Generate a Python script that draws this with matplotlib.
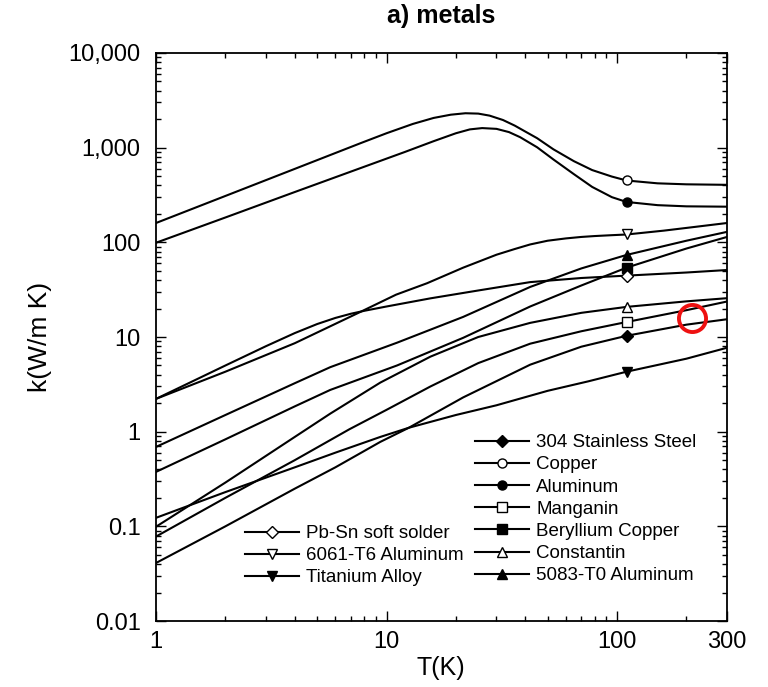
import matplotlib
matplotlib.use("Agg")  # headless, just write the PNG
import matplotlib.pyplot as plt
from matplotlib.ticker import FixedLocator, FixedFormatter, LogLocator, NullFormatter

plt.rcParams["font.family"] = ["Liberation Sans", "DejaVu Sans"]

# ----------------------------------------------------------------------
# Values: temperature T in K, conductivity k in W/(m K)
# ----------------------------------------------------------------------
copper_T = [1, 2, 4, 7.75, 10, 13, 16, 19, 22, 25, 28, 32, 36, 40, 45, 53, 65, 78, 95, 110, 150, 200, 300]
copper_k = [160, 309, 597, 1120, 1420, 1780, 2060, 2230, 2310, 2290, 2180, 1960, 1710, 1480, 1260, 960,
            720, 580, 495, 450, 420, 410, 405]

aluminum_T = [1, 2, 4, 7.75, 12, 16, 20, 23, 26, 30, 34, 38, 45, 53, 65, 78, 95, 110, 150, 200, 300]
aluminum_k = [99, 183, 340, 611, 900, 1170, 1420, 1560, 1610, 1580, 1460, 1290, 1010, 750, 525, 385,
              300, 267, 247, 240, 238]

al6061_T = [1, 2, 4, 7.7, 11, 15, 21.5, 30, 36, 42, 50, 60, 70, 80, 95, 110, 160, 220, 300]
al6061_k = [2.22, 4.3, 8.6, 18.4, 28, 37, 54, 74, 85, 95, 104, 110, 114, 116.5, 119, 121, 133, 146, 160]

pbsn_T = [1, 2, 3, 4, 5, 6, 7, 8, 10, 15.5, 25, 42, 70, 110, 200, 300]
pbsn_k = [2.22, 5.0, 8.0, 11.0, 13.7, 15.9, 17.6, 18.9, 21.0, 25.6, 31, 38, 42, 44.5, 48, 51]

al5083_T = [1, 2, 4, 5.7, 11.1, 21.5, 42, 70, 110, 200, 300]
al5083_k = [0.69, 1.5, 3.25, 4.8, 8.7, 16.3, 33.8, 53, 73.6, 104, 129]

becu_T = [1, 2, 4, 5.7, 11.1, 21.5, 42, 70, 110, 200, 300]
becu_k = [0.376, 0.83, 1.85, 2.76, 5.0, 9.8, 21, 35, 54, 86, 114]

constantan_T = [1, 2, 4, 5.7, 9.4, 15.5, 25, 42, 70, 110, 200, 300]
constantan_k = [0.099, 0.29, 0.88, 1.55, 3.3, 6.2, 10, 14.1, 18, 20.8, 23.8, 25.7]

manganin_T = [1, 2, 4, 6.9, 10, 15.5, 25, 42, 70, 110, 200, 300]
manganin_k = [0.078, 0.2, 0.5, 1.06, 1.7, 3.0, 5.3, 8.5, 11.5, 14.4, 19.2, 23.7]

ss304_T = [1, 2, 4, 6, 9.4, 12.5, 21.5, 42, 70, 110, 200, 300]
ss304_k = [0.041, 0.1, 0.25, 0.42, 0.78, 1.1, 2.3, 5.1, 7.9, 10.3, 13.5, 15.4]

titanium_T = [1, 2, 4, 6, 9.4, 12.5, 20, 30, 50, 75, 110, 200, 300]
titanium_k = [0.123, 0.23, 0.42, 0.6, 0.88, 1.1, 1.5, 1.9, 2.7, 3.4, 4.3, 5.9, 7.7]

SYMBOL_T = 110  # every curve carries its symbol at about 110 K

# red circle drawn on the scanned figure
circle_T = [211]
circle_k = [15.9]

x_ticks = [1, 10, 100, 300]
x_tick_labels = ["1", "10", "100", "300"]
y_ticks = [0.01, 0.1, 1, 10, 100, 1000, 10000]
y_tick_labels = ["0.01", "0.1", "1", "10", "100", "1,000", "10,000"]

# (label, T, k, marker, filled)
curves = [
    ("304 Stainless Steel", ss304_T, ss304_k, "D", True),
    ("Copper", copper_T, copper_k, "o", False),
    ("Aluminum", aluminum_T, aluminum_k, "o", True),
    ("Manganin", manganin_T, manganin_k, "s", False),
    ("Beryllium Copper", becu_T, becu_k, "s", True),
    ("Constantin", constantan_T, constantan_k, "^", False),
    ("5083-T0 Aluminum", al5083_T, al5083_k, "^", True),
    ("Pb-Sn soft solder", pbsn_T, pbsn_k, "D", False),
    ("6061-T6 Aluminum", al6061_T, al6061_k, "v", False),
    ("Titanium Alloy", titanium_T, titanium_k, "v", True),
]
left_legend = ["Pb-Sn soft solder", "6061-T6 Aluminum", "Titanium Alloy"]

W, H = 768, 687
fig = plt.figure(figsize=(W / 100, H / 100), dpi=100)
ax = fig.add_axes([156 / W, 1 - 621 / H, 571 / W, 568 / H])

handles = {}
for label, T, k, marker, filled in curves:
    ms = 6.0 if marker == "D" else 6.5
    line, = ax.plot(T, k, color="black", lw=1.5, marker=marker,
                    markevery=[T.index(SYMBOL_T)], ms=ms, mew=1.0,
                    mec="black", mfc="black" if filled else "white",
                    label=label, zorder=3)
    handles[label] = line

ax.plot(circle_T, circle_k, "o", ms=19.5, mfc="none", mec="#ee1111", mew=2.8, zorder=5)

ax.set_xscale("log")
ax.set_yscale("log")
ax.set_xlim(1, 300)
ax.set_ylim(0.01, 10000)

ax.xaxis.set_major_locator(FixedLocator(x_ticks))
ax.xaxis.set_major_formatter(FixedFormatter(x_tick_labels))
ax.xaxis.set_minor_locator(LogLocator(base=10, subs=range(2, 10)))
ax.xaxis.set_minor_formatter(NullFormatter())
ax.yaxis.set_major_locator(FixedLocator(y_ticks))
ax.yaxis.set_major_formatter(FixedFormatter(y_tick_labels))
ax.yaxis.set_minor_locator(LogLocator(base=10, subs=range(2, 10)))
ax.yaxis.set_minor_formatter(NullFormatter())

ax.tick_params(which="both", direction="in", top=True, right=True, width=1.0)
ax.tick_params(which="major", length=7, labelsize=17)
ax.tick_params(which="minor", length=3.5)
ax.tick_params(axis="y", which="major", pad=11)
ax.tick_params(axis="x", which="major", pad=7)
for s in ax.spines.values():
    s.set_linewidth(1.3)

fig.text(441 / W, 1 - 16 / H, "a) metals", ha="center", va="center",
         fontsize=18, fontweight="bold")
fig.text(441 / W, 1 - 668 / H, "T(K)", ha="center", va="center", fontsize=18)
fig.text(40 / W, 1 - 337 / H, "k(W/m K)", ha="center", va="center",
         fontsize=19, rotation=90)

legend_kw = dict(frameon=False, fontsize=13.5, numpoints=1, handlelength=2.9,
                 handletextpad=0.37, labelspacing=0.27, borderpad=0,
                 borderaxespad=0, loc="upper left", bbox_transform=fig.transFigure)

leg1 = ax.legend(handles=[handles[l] for l in left_legend],
                 bbox_to_anchor=(245 / W, 1 - 525 / H), **legend_kw)
ax.add_artist(leg1)
right = [c[0] for c in curves if c[0] not in left_legend]
ax.legend(handles=[handles[l] for l in right],
          bbox_to_anchor=(475 / W, 1 - 434 / H), **legend_kw)

fig.savefig("out.png", dpi=100)
